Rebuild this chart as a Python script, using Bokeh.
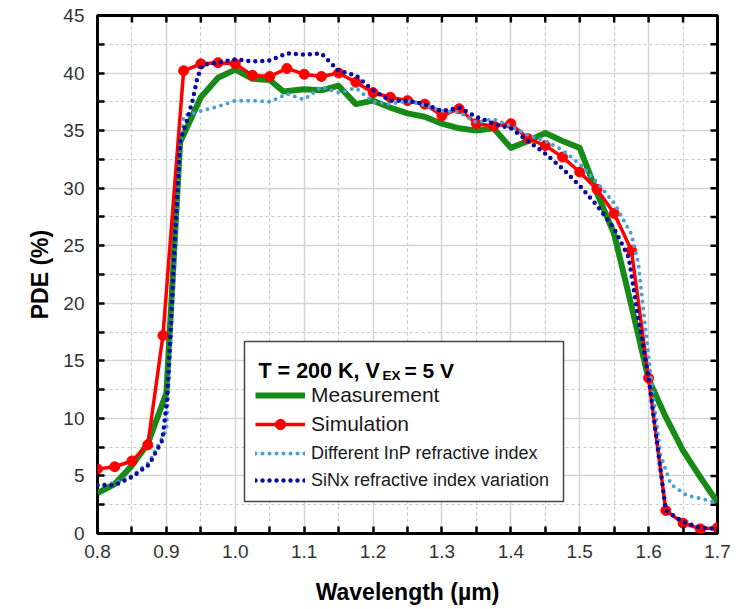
import math
from bokeh.plotting import figure
from bokeh.models import (Range1d, FixedTicker, LinearAxis, PrintfTickFormatter, Legend,
                          LegendItem, Label, BoxAnnotation, Grid)
from bokeh.embed import file_html
from bokeh.resources import INLINE

# ---------------- data ----------------
x_ticks = [0.8, 0.9, 1.0, 1.1, 1.2, 1.3, 1.4, 1.5, 1.6, 1.7]
x_minor = [0.85, 0.95, 1.05, 1.15, 1.25, 1.35, 1.45, 1.55, 1.65]
y_ticks = [0, 5, 10, 15, 20, 25, 30, 35, 40, 45]
y_minor = [2.5, 7.5, 12.5, 17.5, 22.5, 27.5, 32.5, 37.5, 42.5]

wl_meas = [0.8, 0.825, 0.85, 0.873, 0.9, 0.92, 0.95, 0.975, 1.0, 1.025, 1.05, 1.07, 1.1, 1.125,
           1.15, 1.175, 1.2, 1.225, 1.25, 1.275, 1.3, 1.325, 1.35, 1.375, 1.4, 1.425, 1.45,
           1.475, 1.5, 1.525, 1.55, 1.575, 1.6, 1.625, 1.65, 1.675, 1.7]
pde_meas = [3.5, 4.3, 5.9, 7.8, 12.2, 34.0, 37.9, 39.6, 40.3, 39.5, 39.4, 38.4, 38.6, 38.5,
            38.9, 37.3, 37.6, 37.0, 36.5, 36.2, 35.6, 35.2, 35.0, 35.2, 33.5, 34.1, 34.8,
            34.1, 33.5, 29.6, 26.0, 19.8, 13.4, 10.1, 7.2, 4.9, 2.7]

wl_sim = [0.8, 0.825, 0.85, 0.873, 0.895, 0.925, 0.95, 0.975, 1.0, 1.025, 1.05, 1.075, 1.1,
          1.125, 1.15, 1.175, 1.2, 1.225, 1.25, 1.275, 1.3, 1.325, 1.35, 1.375, 1.4, 1.425,
          1.45, 1.475, 1.5, 1.525, 1.55, 1.575, 1.6, 1.625, 1.65, 1.675, 1.7]
pde_sim = [5.6, 5.8, 6.3, 7.7, 17.2, 40.2, 40.8, 40.9, 40.8, 39.8, 39.7, 40.4, 39.9,
           39.7, 40.0, 39.2, 38.3, 37.9, 37.6, 37.3, 36.3, 36.9, 35.6, 35.4, 35.6, 34.3,
           33.7, 32.7, 31.4, 29.9, 27.8, 24.6, 13.5, 2.0, 0.9, 0.4, 0.5]

wl_inp = [0.8, 0.825, 0.85, 0.875, 0.9, 0.91, 0.92, 0.925, 0.95, 0.975, 1.0, 1.025, 1.05,
          1.075, 1.1, 1.125, 1.15, 1.175, 1.2, 1.225, 1.25, 1.275, 1.3, 1.325, 1.35, 1.375,
          1.4, 1.425, 1.45, 1.475, 1.5, 1.525, 1.55, 1.575, 1.585, 1.595, 1.605, 1.617,
          1.632, 1.656, 1.7]
pde_inp = [4.2, 4.4, 5.0, 6.2, 9.0, 21.0, 33.5, 36.3, 36.7, 37.1, 37.6, 37.6, 37.5,
           38.2, 37.7, 38.8, 38.3, 38.7, 37.5, 37.3, 37.6, 37.2, 36.7, 36.6, 35.7, 36.0,
           35.4, 34.6, 34.1, 33.3, 32.1, 30.5, 28.7, 26.0, 23.5, 18.0, 12.8, 6.9,
           4.3, 3.3, 2.7]

wl_sinx = [0.8, 0.825, 0.85, 0.875, 0.894, 0.901, 0.906, 0.912, 0.917, 0.92, 0.93, 0.938,
           0.945, 0.952, 0.975, 1.0, 1.025, 1.05, 1.075, 1.1, 1.125, 1.15, 1.175, 1.2, 1.225,
           1.25, 1.275, 1.3, 1.325, 1.35, 1.375, 1.4, 1.425, 1.45, 1.475, 1.5, 1.525, 1.55,
           1.571, 1.584, 1.6, 1.625, 1.65, 1.675, 1.7]
pde_sinx = [4.2, 4.2, 4.9, 6.0, 8.1, 11.6, 17.4, 25.0, 30.7, 34.1, 35.9, 37.6,
            39.6, 40.7, 40.9, 41.2, 41.0, 41.1, 41.7, 41.6, 41.7, 40.2, 39.8, 38.5, 37.6,
            37.6, 37.3, 36.7, 37.0, 36.2, 35.6, 35.2, 34.1, 33.0, 31.7, 30.2, 28.5, 26.5,
            24.0, 19.1, 13.5, 2.0, 1.0, 0.5, 0.4]

# ---------------- styles ----------------
FONT = "Liberation Sans"
GREEN = "#178a17"
RED = "#ff0000"
LBLUE = "#4a9fd5"
DBLUE = "#0b0ba0"

p = figure(width=743, height=609, output_backend="svg", toolbar_location=None,
           x_range=Range1d(x_ticks[0], x_ticks[-1]), y_range=Range1d(y_ticks[0], y_ticks[-1]),
           x_axis_type=None, y_axis_type=None,
           min_border_left=97, min_border_right=26, min_border_top=15, min_border_bottom=76)
p.background_fill_color = "white"
p.border_fill_color = "white"
p.outline_line_color = "black"
p.outline_line_width = 3
p.outline_line_alpha = 1

xt = FixedTicker(ticks=x_ticks, minor_ticks=x_minor)
yt = FixedTicker(ticks=y_ticks, minor_ticks=y_minor)

for dim, tk in ((0, xt), (1, yt)):
    g = Grid(dimension=dim, ticker=tk)
    g.grid_line_color = "#d4d4d4"
    g.grid_line_width = 1.5
    g.minor_grid_line_color = "#c8c8c8"
    g.minor_grid_line_width = 1.2
    g.minor_grid_line_dash = "3 3"
    p.add_layout(g, "center")


def style_axis(ax):
    ax.axis_line_color = None
    ax.major_tick_in = 7
    ax.major_tick_out = 0
    ax.minor_tick_in = 7
    ax.minor_tick_out = 0
    ax.major_tick_line_color = "black"
    ax.minor_tick_line_color = "black"
    ax.major_tick_line_width = 2.5
    ax.minor_tick_line_width = 2.5
    ax.major_label_text_font = FONT
    ax.major_label_text_font_size = "19px"
    ax.major_label_text_color = "#333333"
    ax.axis_label_text_font = FONT
    ax.axis_label_text_font_style = "bold"
    ax.axis_label_text_font_size = "23px"
    ax.axis_label_text_color = "black"


xb = LinearAxis(ticker=xt, formatter=PrintfTickFormatter(format="%.1f"),
                axis_label="Wavelength (µm)")
style_axis(xb)
xb.major_label_standoff = 11
xb.axis_label_standoff = 18
p.add_layout(xb, "below")

yl = LinearAxis(ticker=yt, axis_label="PDE (%)")
style_axis(yl)
yl.major_label_standoff = 13
yl.axis_label_standoff = 7
p.add_layout(yl, "left")

# ---------------- curves ----------------
r_meas = p.line(wl_meas, pde_meas, line_color=GREEN, line_width=6, line_join="round")
r_sim_l = p.line(wl_sim, pde_sim, line_color=RED, line_width=3.5, line_join="round")
r_sim_m = p.scatter(wl_sim, pde_sim, size=10, fill_color=RED, line_color=RED)
r_inp = p.line(wl_inp, pde_inp, line_color=LBLUE, line_width=4, line_dash="0 7",
               line_cap="round")
r_sinx = p.line(wl_sinx, pde_sinx, line_color=DBLUE, line_width=4.5, line_dash="0 7",
                line_cap="round")

# inward ticks on top and right edges (half of each dash is clipped by the frame)
top_x = x_ticks + x_minor
p.scatter(top_x, [y_ticks[-1]] * len(top_x), marker="dash", size=14, angle=math.pi / 2,
          line_color="black", line_width=2.5)
right_y = y_ticks + y_minor
p.scatter([x_ticks[-1]] * len(right_y), right_y, marker="dash", size=14,
          line_color="black", line_width=2.5)

# ---------------- legend ----------------
box = BoxAnnotation(left=147, right=466, bottom=32, top=192,
                    left_units="screen", right_units="screen",
                    top_units="screen", bottom_units="screen",
                    fill_color="white", fill_alpha=1.0,
                    line_color="#444444", line_width=1.5, line_alpha=1.0)
p.add_layout(box)

legA = Legend(items=[LegendItem(label="Measurement", renderers=[r_meas]),
                     LegendItem(label="Simulation", renderers=[r_sim_l, r_sim_m])],
              location=(158, 96))
legB = Legend(items=[LegendItem(label="Different InP refractive index", renderers=[r_inp]),
                     LegendItem(label="SiNx refractive index variation", renderers=[r_sinx])],
              location=(158, 41))
for lg, fs, gh in ((legA, "21px", 26), (legB, "18px", 24)):
    lg.padding = 0
    lg.margin = 0
    lg.spacing = 3
    lg.border_line_color = None
    lg.background_fill_alpha = 0
    lg.label_text_font = FONT
    lg.label_text_font_size = fs
    lg.label_text_color = "#1a1a1a"
    lg.label_standoff = 6
    lg.glyph_width = 50
    lg.glyph_height = gh
    lg.label_height = gh
    p.add_layout(lg)

t1 = Label(x=161, y=163, x_units="screen", y_units="screen", text="T = 200 K, V",
           text_font=FONT, text_font_style="bold", text_font_size="21.5px",
           text_baseline="alphabetic", text_color="black")
t2 = Label(x=285, y=158, x_units="screen", y_units="screen", text="EX",
           text_font=FONT, text_font_style="bold", text_font_size="13.5px",
           text_baseline="alphabetic", text_color="black")
t3 = Label(x=307, y=163, x_units="screen", y_units="screen", text="= 5 V",
           text_font=FONT, text_font_style="bold", text_font_size="21px",
           text_baseline="alphabetic", text_color="black")
for t in (t1, t2, t3):
    p.add_layout(t)

open("out.html", "w").write(file_html(p, INLINE))
